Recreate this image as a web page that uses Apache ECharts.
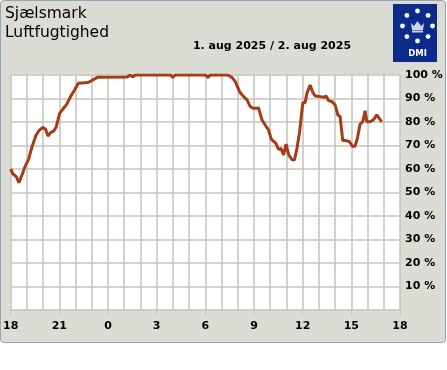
<!DOCTYPE html>
<html>
<head>
<meta charset="utf-8">
<script src="https://cdn.jsdelivr.net/npm/echarts@6/dist/echarts.min.js"></script>
<style>
html,body{margin:0;padding:0;background:#fff;}
#panel{position:absolute;left:0;top:0;width:446px;height:343px;box-sizing:border-box;background:#dcdcd4;border:1.5px solid #8ea7bb;border-radius:4px;}
#chart{position:absolute;left:0;top:0;width:447px;height:370px;}
</style>
</head>
<body>
<div id="panel"></div>
<div id="chart"></div>
<script>
// hours since 1 aug 18:00
const hours = [0,0.14,0.35,0.51,0.72,0.88,1.09,1.29,1.54,1.74,1.99,2.15,2.30,2.46,2.66,2.81,3.02,3.22,3.43,3.69,3.94,4.17,4.78,5.06,5.34,7.20,7.38,7.51,7.69,9.85,9.99,10.15,12.0,12.17,12.31,13.37,13.64,13.85,14.11,14.36,14.57,14.77,14.97,15.08,15.28,15.49,15.69,15.90,16.06,16.34,16.51,16.66,16.82,16.98,17.14,17.34,17.49,17.64,17.80,18.01,18.15,18.26,18.46,18.63,18.77,19.08,19.32,19.45,19.59,19.80,20.0,20.17,20.31,20.47,20.62,20.88,21.09,21.23,21.37,21.54,21.70,21.85,21.95,22.15,22.36,22.57,22.69,22.87];
const humidity = [60,57.9,56.7,54.2,57.9,61,63.8,68.8,74,76.3,77.7,76.9,74,75.5,76.2,78,83.7,85.5,87.2,90.8,93.6,96.5,96.8,97.9,99,99.2,100,99.2,100,100,99,100,100,99,100,100,99,97.2,92.9,90.8,89.4,86.5,85.8,86.5,86,80.9,78.7,76.6,72.7,71,68.4,68.8,66,70.6,66,64,63.8,68.5,75.2,88.2,88.2,92.2,95.7,92.5,91.1,90.8,90.5,91.1,89.1,88.7,87.2,83,82.3,72.1,72.1,71.7,69.5,69.8,73,79.1,80.1,84.8,80.1,80.1,80.9,83,83,80.1];
const xTickLabels = ['18','21','0','3','6','9','12','15','18'];
const yTickLabels = ['','10 %','20 %','30 %','40 %','50 %','60 %','70 %','80 %','90 %','100 %'];
const stationName = 'Sjælsmark';
const measureName = 'Luftfugtighed';
const dateText = '1. aug 2025 / 2. aug 2025';

const chart = echarts.init(document.getElementById('chart'), null, {renderer:'canvas'});
const FONT = 'DejaVu Sans';
const dotAngles = [0,45,90,135,180,225,270,315];
const logoCx = 417.5, logoCy = 26, logoR = 15;
const dots = dotAngles.map(a => ({
  type:'circle', z:101,
  shape:{cx: logoCx + logoR*Math.sin(a*Math.PI/180), cy: logoCy - logoR*Math.cos(a*Math.PI/180), r:2.4},
  style:{fill:'#ffffff'}
}));
chart.setOption({
  backgroundColor:'transparent',
  animation:false,
  grid:{left:10, top:75, width:390, height:235, show:true, backgroundColor:'#ffffff', borderWidth:0, containLabel:false},
  xAxis:{
    type:'value', min:0, max:24, interval:3, offset:5,
    axisLine:{show:false},
    axisTick:{show:true, length:5, lineStyle:{color:'#c4c4b8', width:1}},
    minorTick:{show:false, splitNumber:3},
    splitLine:{show:true, lineStyle:{color:'#c4c4b8', width:1.5}},
    minorSplitLine:{show:true, lineStyle:{color:'#c4c4b8', width:1.5}},
    axisLabel:{margin:6, color:'#000', fontFamily:FONT, fontWeight:'bold', fontSize:11,
      formatter:(v)=>xTickLabels[Math.round(v/3)]}
  },
  yAxis:{
    type:'value', position:'right', min:0, max:100, interval:10,
    axisLine:{show:false}, axisTick:{show:false},
    splitLine:{show:true, lineStyle:{color:'#c4c4b8', width:1.5}},
    axisLabel:{margin:5, align:'left', color:'#000', fontFamily:FONT, fontWeight:'bold', fontSize:11,
      formatter:(v)=>yTickLabels[Math.round(v/10)]}
  },
  series:[{
    type:'line', showSymbol:false, smooth:false, z:5,
    lineStyle:{color:'#a63b18', width:3},
    data: hours.map((h,i)=>[h, humidity[i]])
  }],
  graphic:[
    {type:'text', left:5, top:6, style:{text:stationName, fontFamily:FONT, fontSize:15.5, fill:'#000'}},
    {type:'text', left:5, top:25, style:{text:measureName, fontFamily:FONT, fontSize:15.5, fill:'#000'}},
    {type:'text', x:272, y:46, style:{text:dateText, fontFamily:FONT, fontSize:11, fontWeight:'bold', fill:'#000', align:'center', verticalAlign:'middle'}},
    {type:'rect', z:100, shape:{x:393, y:4, width:44, height:58}, style:{fill:'#0c2b8a'}},
    ...dots,
    {type:'polygon', z:101, shape:{points:[[412,30],[411,23],[414,26],[417.5,21],[421,26],[424,23],[423,30]]}, style:{fill:'#c8d4ee'}},
    {type:'rect', z:101, shape:{x:412, y:30.5, width:11, height:2}, style:{fill:'#c8d4ee'}},
    {type:'text', z:101, x:417.5, y:54, style:{text:'DMI', fontFamily:FONT, fontSize:8.5, fontWeight:'bold', fill:'#ffffff', align:'center', verticalAlign:'middle'}}
  ]
});
</script>
</body>
</html>
